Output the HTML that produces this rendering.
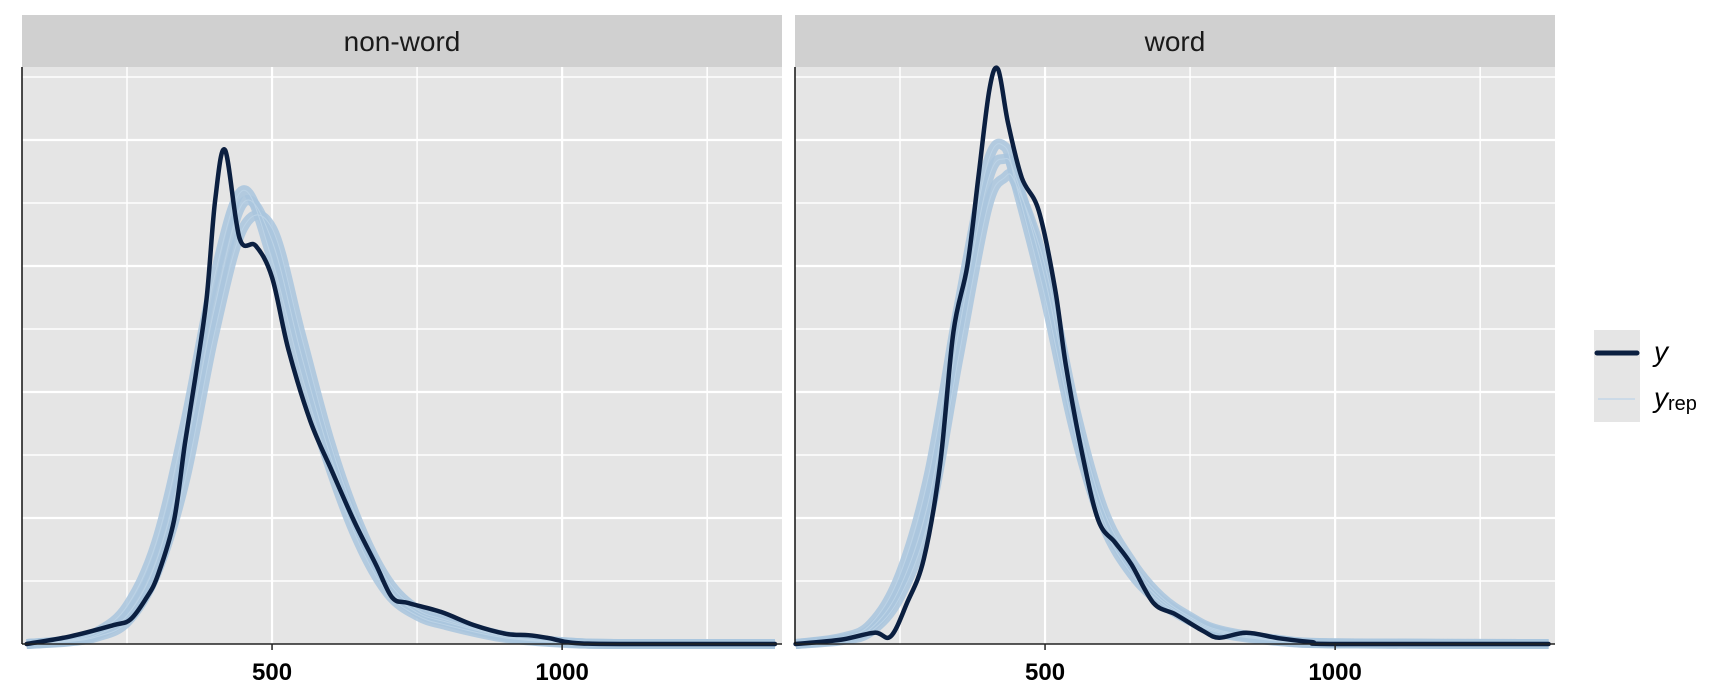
<!DOCTYPE html>
<html><head><meta charset="utf-8"><style>
html,body{margin:0;padding:0;background:#fff;}
svg{display:block;font-family:"Liberation Sans",Arial,sans-serif;}
</style></head><body>
<svg id="chart" width="1728" height="691" viewBox="0 0 1728 691" xmlns="http://www.w3.org/2000/svg"></svg>
<script>
// ---- data ----
const panels = ["non-word","word"];
const xTicks = [500,1000];
const obsLeftX = [77,152,227,256,284,303,331,350,368,387,402,419,444,472,500,528,566,603,641,679,707,735,791,848,904,942,979,1017,1100,1367];
const obsLeftD = [0,0.12,0.3,0.39,0.74,1.09,1.96,3.19,4.25,5.47,7.05,7.84,6.44,6.32,5.82,4.68,3.54,2.75,1.96,1.26,0.74,0.65,0.51,0.3,0.16,0.14,0.09,0.02,0,0];
const repLeftX = [77,150,200,250,300,350,400,450,500,550,600,650,700,750,800,900,1000,1100,1367];
const repLeftA = [0,0.05,0.15,0.45,1.3,3.0,5.3,7.0,6.4,4.6,3.0,1.8,0.9,0.5,0.35,0.12,0.03,0,0];
const repLeftB = [0,0.06,0.2,0.6,1.6,3.5,5.8,7.2,6.1,4.3,2.8,1.6,0.8,0.45,0.3,0.1,0.02,0,0];
const repLeftC = [0,0.04,0.12,0.35,1.1,2.6,4.9,6.6,6.6,4.9,3.2,1.9,1.0,0.55,0.38,0.13,0.03,0,0];
const obsRightX = [70,149,206,234,262,291,319,342,366,385,404,419,436,460,489,517,536,564,592,621,649,687,725,772,800,847,904,960,998,1368];
const obsRightD = [0,0.07,0.18,0.12,0.65,1.35,2.84,4.95,6.0,7.4,8.8,9.12,8.28,7.4,6.88,5.65,4.42,3.02,1.96,1.61,1.26,0.65,0.47,0.21,0.1,0.18,0.09,0.03,0,0];
const repRightX = [70,150,200,250,300,350,400,430,450,500,550,600,650,700,750,800,900,1000,1368];
const repRightA = [0,0.08,0.25,0.9,2.3,4.9,7.3,7.7,7.4,5.8,3.6,2.0,1.2,0.7,0.4,0.2,0.06,0.01,0];
const repRightB = [0,0.1,0.32,1.1,2.7,5.3,7.6,7.9,7.3,5.5,3.4,1.9,1.1,0.65,0.37,0.18,0.05,0.01,0];
const repRightC = [0,0.06,0.2,0.75,2.0,4.5,6.9,7.4,7.3,6.0,3.8,2.15,1.3,0.75,0.43,0.22,0.07,0.01,0];

// ---- layout ----
const NS="http://www.w3.org/2000/svg";
const svgEl=document.getElementById('chart');
const panelX=[22,795], panelW=760, plotTop=67, plotBottom=644, stripTop=15;
const xMin=69, xMax=1379, unitPx=63;
function xs(p,v){return panelX[p]+(v-xMin)/(xMax-xMin)*panelW;}
function ys(d){return plotBottom-d*unitPx;}
function mk(tag,attrs,parent){const e=document.createElementNS(NS,tag);for(const k in attrs)e.setAttribute(k,attrs[k]);(parent||svgEl).appendChild(e);return e;}
function pathD(p,xa,da){
  const pts=xa.map((v,i)=>[xs(p,v),ys(da[i])]);
  let d="M"+pts[0][0].toFixed(1)+","+pts[0][1].toFixed(1);
  for(let i=0;i<pts.length-1;i++){
    const p0=pts[Math.max(0,i-1)],p1=pts[i],p2=pts[i+1],p3=pts[Math.min(pts.length-1,i+2)];
    let c1y=p1[1]+(p2[1]-p0[1])/6, c2y=p2[1]-(p3[1]-p1[1])/6;
    c1y=Math.min(c1y,plotBottom);c2y=Math.min(c2y,plotBottom);
    d+=" C"+(p1[0]+(p2[0]-p0[0])/6).toFixed(1)+","+c1y.toFixed(1)+" "+(p2[0]-(p3[0]-p1[0])/6).toFixed(1)+","+c2y.toFixed(1)+" "+p2[0].toFixed(1)+","+p2[1].toFixed(1);
  }
  return d;
}
const obsSeries=[[obsLeftX,obsLeftD],[obsRightX,obsRightD]];
const repSeries=[[repLeftX,[repLeftA,repLeftB,repLeftC]],[repRightX,[repRightA,repRightB,repRightC]]];

panels.forEach((pname,p)=>{
  const g=mk('g',{});
  
  
  const bg=mk('rect',{x:panelX[p],y:plotTop,width:panelW,height:plotBottom-plotTop,fill:'#e5e5e5'},g);
  
  
  const strip=mk('rect',{x:panelX[p],y:stripTop,width:panelW,height:plotTop-stripTop,fill:'#d0d0d0'},g);
  
  
  const st=mk('text',{x:panelX[p]+panelW/2,y:51,'text-anchor':'middle','font-size':28,fill:'#1a1a1a'},g);
  st.textContent=pname;
  
  
  for(let k=1;k<=9;k++){
    const gl=mk('line',{x1:panelX[p],x2:panelX[p]+panelW,y1:ys(k),y2:ys(k),stroke:'#fff','stroke-width':k%2?1.5:2.2},g);
    
    
  }
  [250,500,750,1000,1250].forEach(v=>{
    const gl=mk('line',{x1:xs(p,v),x2:xs(p,v),y1:plotTop,y2:plotBottom,stroke:'#fff','stroke-width':(v%500===0)?2.2:1.5},g);
    
    
  });
  const rx=repSeries[p][0], rs=repSeries[p][1];
  rs.forEach(s=>{
    const band=mk('path',{d:pathD(p,rx,s),fill:'none',stroke:'#a9c6de','stroke-width':10,'stroke-opacity':0.85,'stroke-linejoin':'round'},g);
    
    
  });
  rs.forEach(s=>{
    const l=mk('path',{d:pathD(p,rx,s),fill:'none',stroke:'#bcd3e6','stroke-width':1},g);
    
    
  });
  const ol=mk('path',{d:pathD(p,obsSeries[p][0],obsSeries[p][1]),fill:'none',stroke:'#0b1f40','stroke-width':4.5,'stroke-linejoin':'round','stroke-linecap':'round'},g);
  
  
  const ax=mk('line',{x1:panelX[p],x2:panelX[p]+panelW,y1:plotBottom,y2:plotBottom,stroke:'#222','stroke-width':1.5},g);
  
  
  const ay=mk('line',{x1:panelX[p],x2:panelX[p],y1:plotTop,y2:plotBottom,stroke:'#111','stroke-width':1.5},g);
  
  
  xTicks.forEach(v=>{
    const t=mk('line',{x1:xs(p,v),x2:xs(p,v),y1:plotBottom,y2:plotBottom+6,stroke:'#222','stroke-width':1.5},g);
    
    
    const lb=mk('text',{x:xs(p,v),y:680,'text-anchor':'middle','font-size':24,'font-weight':'bold',fill:'#000'},g);
    lb.textContent=v;
    
    
  });
});
// legend
const lg=mk('g',{});


const k1=mk('rect',{x:1594,y:330,width:46,height:46,fill:'#e5e5e5'},lg);


const k2=mk('rect',{x:1594,y:376,width:46,height:46,fill:'#e5e5e5'},lg);


const l1=mk('line',{x1:1597,x2:1637,y1:353,y2:353,stroke:'#0b1f40','stroke-width':5,'stroke-linecap':'round'},lg);


const l2=mk('line',{x1:1598,x2:1635,y1:399,y2:399,stroke:'#c3d6e8','stroke-width':1.5},lg);


const t1=mk('text',{x:1654,y:361,'font-size':28,'font-style':'italic',fill:'#000'},lg);
t1.textContent='y';


const t2=mk('text',{x:1654,y:407,'font-size':28,fill:'#000'},lg);
const ts1=mk('tspan',{'font-style':'italic'},t2);
ts1.textContent='y';
const ts2=mk('tspan',{'font-size':20,dy:3},t2);
ts2.textContent='rep';


</script>
</body></html>
